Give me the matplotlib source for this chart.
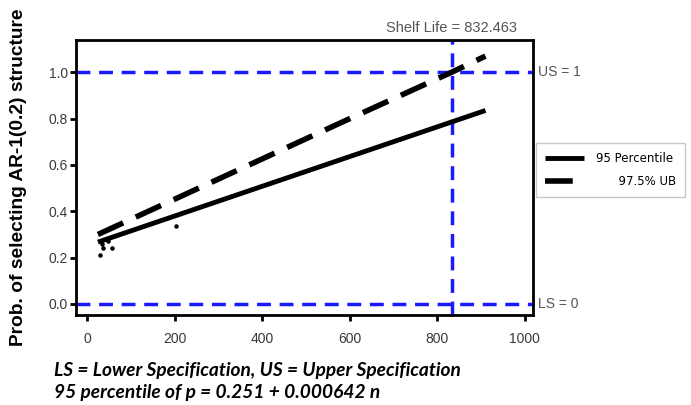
import numpy as np
import matplotlib.pyplot as plt

plt.rcParams['font.family'] = ['Liberation Sans', 'DejaVu Sans']

# percentile line: p = a + b n
intercept = 0.251
slope = 0.000642
n_line = [25, 910]

# 97.5% upper bound
ub_n = [25, 200, 400, 600, 832.463, 910]
ub_p = [0.30, 0.452, 0.626, 0.80, 1.0, 1.07]

# observed points
obs_n = [30, 34, 37, 48, 57, 203]
obs_p = [0.213, 0.26, 0.243, 0.27, 0.243, 0.335]

shelf_life = 832.463
spec_upper = 1.0
spec_lower = 0.0

xticks = [0, 200, 400, 600, 800, 1000]
yticks = [0.0, 0.2, 0.4, 0.6, 0.8, 1.0]

fig = plt.figure(figsize=(6.91, 4.05), dpi=100)
ax = fig.add_axes([0.110, 0.222, 0.661, 0.679])

blue = '#1a1aff'
ax.axhline(spec_upper, color=blue, lw=2.5, dashes=(4, 2.5), zorder=1)
ax.axhline(spec_lower, color=blue, lw=2.5, dashes=(4, 2.5), zorder=1)
ax.axvline(shelf_life, color=blue, lw=2.5, dashes=(4, 2.5), zorder=1)

n_arr = np.array(n_line)
ax.plot(n_arr, intercept + slope * n_arr, color='black', lw=3.5,
        solid_capstyle='butt', label='95 Percentile', zorder=3)
ax.plot(ub_n, ub_p, color='black', lw=4, dashes=(5, 2.5),
        label='      97.5% UB', zorder=3)
ax.scatter(obs_n, obs_p, s=5, color='black', zorder=4)

ax.set_xlim(-25, 1018)
ax.set_ylim(-0.048, 1.139)
ax.set_xticks(xticks)
ax.set_yticks(yticks)
ax.set_xticklabels([str(t) for t in xticks])
ax.set_yticklabels([f'{t:.1f}' for t in yticks])

for s in ax.spines.values():
    s.set_linewidth(2)
ax.tick_params(axis='both', direction='out', length=4, width=2,
               labelsize=10, labelcolor='#3a3a3a', pad=2)
ax.tick_params(axis='x', pad=8)

fig.text(0.027, 0.563, 'Prob. of selecting AR-1(0.2) structure', fontsize=13.8,
         fontweight='bold', rotation=90, ha='center', va='center')

ax.text(shelf_life, 1.16, 'Shelf Life = 832.463', ha='center', va='bottom',
        fontsize=10.5, color='#555555')
ax.text(1030, spec_upper, 'US = 1', ha='left', va='center',
        fontsize=10, color='#555555', clip_on=False)
ax.text(1030, spec_lower, 'LS = 0', ha='left', va='center',
        fontsize=10, color='#555555', clip_on=False)

leg = ax.legend(loc='center left', bbox_to_anchor=(1.0, 0.527),
                prop={'family': 'DejaVu Sans', 'size': 8.5},
                frameon=True, fancybox=False, edgecolor='#bbbbbb',
                handlelength=3.3, handletextpad=1.0, borderpad=0.75,
                labelspacing=0.85, borderaxespad=0.3)
leg.get_frame().set_linewidth(1)

note_font = dict(fontsize=13.8, style='italic', fontweight='bold',
                 family=['Lato', 'DejaVu Sans'])
fig.text(0.078, 0.071, 'LS = Lower Specification, US = Upper Specification',
         **note_font)
fig.text(0.078, 0.018, '95 percentile of p = 0.251 + 0.000642 n', **note_font)

fig.savefig('out.png', dpi=100)
